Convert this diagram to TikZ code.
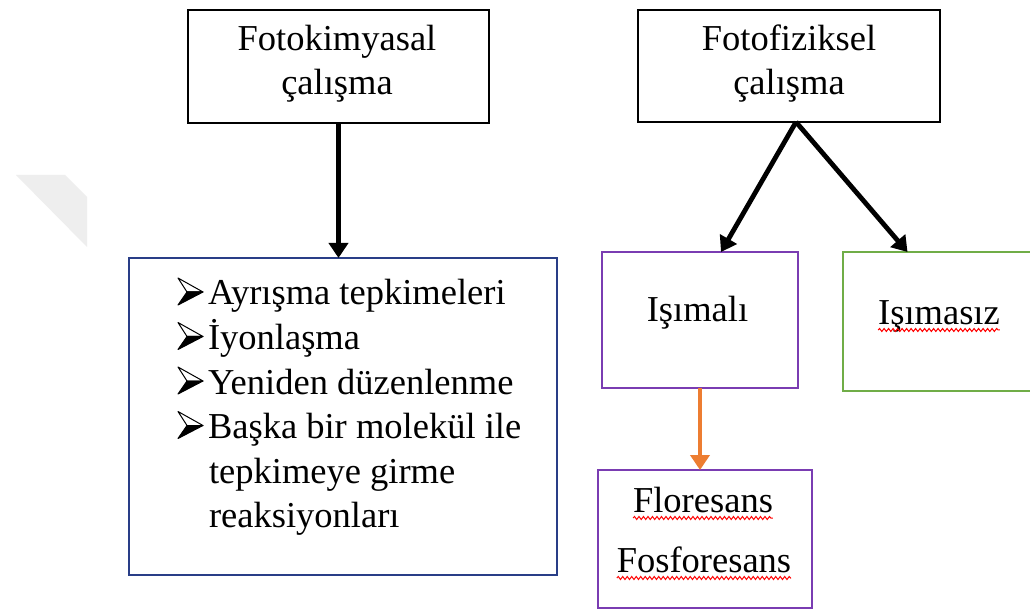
\documentclass[tikz,border=0pt]{standalone}
\usepackage{fontspec}
\setmainfont{Liberation Serif}
\usetikzlibrary{arrows.meta,decorations.pathmorphing}

\tikzset{
  listbullet/.pic={
    \path[draw=black,line width=1pt,line join=round,fill=white] (0,27) -- (25,13) -- (9,13) -- cycle;
    \path[draw=black,line width=1pt,line join=round,fill=black] (9,13) -- (25,13) -- (0,0) -- cycle;
  }
}

\begin{document}
\begin{tikzpicture}[x=1pt,y=1pt,
  box/.style={draw=#1,line width=1.6pt,rectangle,inner sep=0pt,outer sep=0pt},
  lbl/.style={text=black,anchor=base,inner sep=0pt,outer sep=0pt,font=\fontsize{36.5}{44}\selectfont},
  arrowblack/.style={draw=black,line width=4.8pt,-{Triangle[length=15pt,width=19pt]}},
  arroworange/.style={draw=arrowColor,line width=4.5pt,-{Triangle[length=15pt,width=19pt]}},
  squiggle/.style={draw=red,line width=1pt,decorate,decoration={snake,segment length=4.5pt,amplitude=1.5pt}}]
\definecolor{fillColor}{RGB}{255,255,255}
\definecolor{markColor}{RGB}{238,238,238}
\definecolor{listColor}{RGB}{41,62,135}
\definecolor{purpleColor}{RGB}{122,60,178}
\definecolor{greenColor}{RGB}{112,173,71}
\definecolor{arrowColor}{RGB}{237,125,49}
\path[use as bounding box,fill=fillColor] (0,0) rectangle (1030,611);
\begin{scope}
\path[clip] (0,0) rectangle (1030,611);

% faint mark at the left
\path[fill=markColor] (16,436) -- (65,436) -- (87,414) -- (87,364) -- cycle;

% boxes
\node (fotokim) [box=black,minimum width=301pt,minimum height=113pt] at (338.5,544.5) {};
\node (fotofiz) [box=black,minimum width=302pt,minimum height=112pt] at (789,545) {};
\node (liste) [box=listColor,minimum width=428pt,minimum height=317pt] at (343,194.5) {};
\node (isimali) [box=purpleColor,minimum width=196pt,minimum height=136pt] at (700,291) {};
\node (isimasiz) [box=greenColor,minimum width=193pt,minimum height=139pt] at (939.5,289.5) {};
\node (floresans) [box=purpleColor,minimum width=214pt,minimum height=138pt] at (705,72) {};
\end{scope}
\begin{scope}
% texts
\node (tA1) [lbl] at (337,560) {Fotokimyasal};
\node (tA2) [lbl] at (337,516) {çalışma};
\node (tC1) [lbl] at (789,560) {Fotofiziksel};
\node (tC2) [lbl] at (789,516) {çalışma};

\node (l1) [lbl,anchor=base west] at (208,306) {Ayrışma tepkimeleri};
\node (l2) [lbl,anchor=base west] at (208,261.5) {İyonlaşma};
\node (l3) [lbl,anchor=base west] at (208,217) {Yeniden düzenlenme};
\node (l4) [lbl,anchor=base west] at (208,172.5) {Başka bir molekül ile};
\node (l5) [lbl,anchor=base west] at (209,128) {tepkimeye girme};
\node (l6) [lbl,anchor=base west] at (209,83.5) {reaksiyonları};

\pic at ([xshift=-30pt]l1.base west) {listbullet};
\pic at ([xshift=-30pt]l2.base west) {listbullet};
\pic at ([xshift=-30pt]l3.base west) {listbullet};
\pic at ([xshift=-30pt]l4.base west) {listbullet};

\node (tD) [lbl] at (697.5,289) {Işımalı};
\node (tE) [lbl] at (939,286) {Işımasız};
\node (tF1) [lbl] at (703,99) {Floresans};
\node (tF2) [lbl] at (704,39) {Fosforesans};

\draw[squiggle] ([yshift=-5pt]tE.base west) -- ([yshift=-5pt]tE.base east);
\draw[squiggle] ([yshift=-6pt]tF1.base west) -- ([yshift=-6pt]tF1.base east);
\draw[squiggle] ([yshift=-6pt]tF2.base west) -- ([yshift=-6pt]tF2.base east);
\end{scope}
\begin{scope}
% arrows
\draw[arrowblack] (fotokim.south) -- (fotokim.south |- liste.north);
\draw[arrowblack] ([xshift=7pt]fotofiz.south) -- ([xshift=21pt]isimali.north);
\draw[arrowblack] ([xshift=7pt]fotofiz.south) -- ([xshift=-32pt]isimasiz.north);
\draw[arroworange] (isimali.south) -- (isimali.south |- floresans.north);
\end{scope}
\end{tikzpicture}
\end{document}
